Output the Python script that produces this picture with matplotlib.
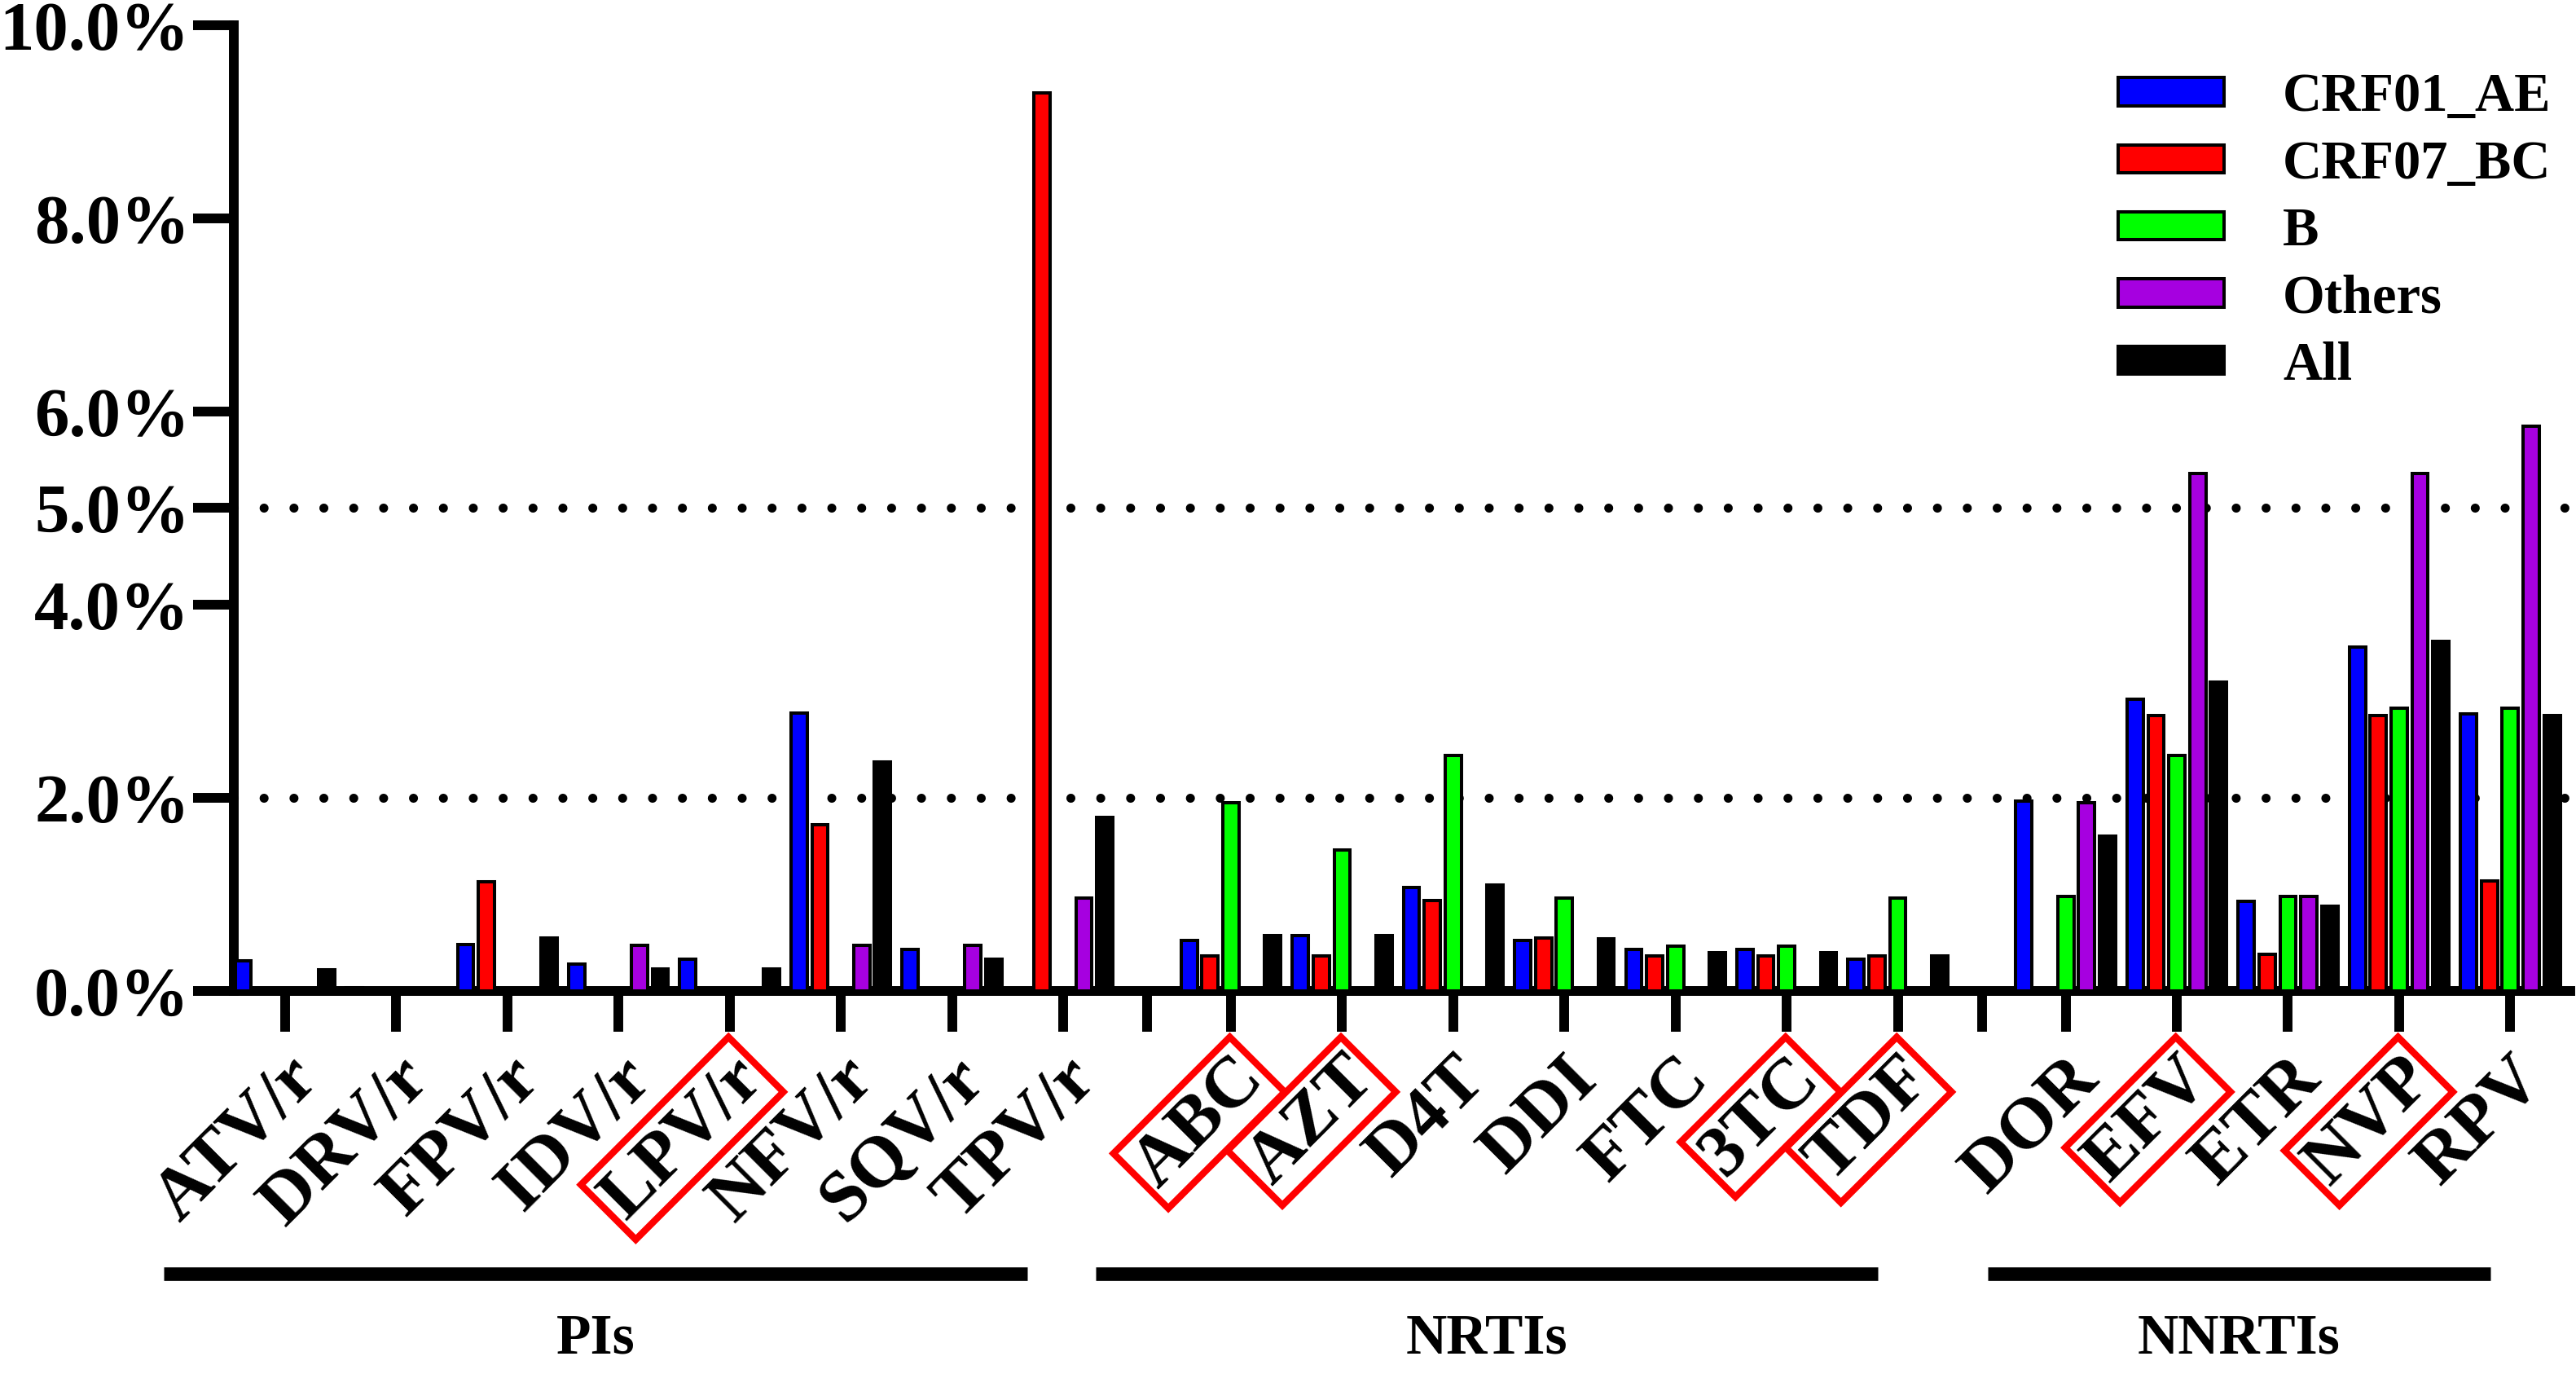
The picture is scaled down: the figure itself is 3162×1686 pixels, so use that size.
import matplotlib
matplotlib.use('Agg')
import matplotlib.pyplot as plt
import matplotlib.transforms as mtransforms
import numpy as np

# drugs, grouped by class
drugs = ['ATV/r', 'DRV/r', 'FPV/r', 'IDV/r', 'LPV/r', 'NFV/r', 'SQV/r', 'TPV/r',
         'ABC', 'AZT', 'D4T', 'DDI', 'FTC', '3TC', 'TDF',
         'DOR', 'EFV', 'ETR', 'NVP', 'RPV']
classNames = ['PIs', 'NRTIs', 'NNRTIs']
classSizes = [8, 7, 5]
boxedDrugs = ['LPV/r', 'ABC', 'AZT', '3TC', 'TDF', 'EFV', 'NVP']

seriesNames = ['CRF01_AE', 'CRF07_BC', 'B', 'Others', 'All']
crf01ae = [0.31, 0.03, 0.48, 0.28, 0.33, 2.88, 0.43, 0.02,
           0.52, 0.57, 1.07, 0.52, 0.43, 0.43, 0.33,
           1.97, 3.02, 0.93, 3.56, 2.87]
crf07bc = [0, 0, 1.13, 0, 0, 1.72, 0, 9.30,
           0.36, 0.36, 0.94, 0.55, 0.36, 0.36, 0.36,
           0, 2.85, 0.38, 2.85, 1.14]
subtypeB = [0, 0, 0, 0, 0, 0, 0, 0,
            1.95, 1.46, 2.44, 0.96, 0.46, 0.46, 0.96,
            0.98, 2.44, 0.98, 2.93, 2.93]
others = [0, 0, 0, 0.47, 0, 0.47, 0.47, 0.96,
          0, 0, 0, 0, 0, 0, 0,
          1.95, 5.36, 0.98, 5.36, 5.85]
allSubtypes = [0.22, 0, 0.55, 0.23, 0.23, 2.37, 0.33, 1.80,
               0.57, 0.57, 1.10, 0.54, 0.40, 0.40, 0.36,
               1.60, 3.20, 0.88, 3.62, 2.85]

yTicks = [0, 2, 4, 5, 6, 8, 10]
yTickLabels = ['0.0%', '2.0%', '4.0%', '5.0%', '6.0%', '8.0%', '10.0%']
refLines = [2, 5]

plt.rcParams['font.family'] = ['Liberation Serif', 'DejaVu Serif']
plt.rcParams['font.weight'] = 'bold'

# category positions, with a wider gap (and an unlabeled tick) between classes
groupGap = 1.51
xPos = []
spacerPos = []
start = 0.0
for n in classSizes:
    xPos += [start + i for i in range(n)]
    spacerPos.append(start + n - 1 + groupGap / 2)
    start = start + n - 1 + groupGap
spacerPos = spacerPos[:-1]
xPos = np.array(xPos)

fig = plt.figure(figsize=(31.62, 16.86), dpi=100)
ax = fig.add_axes([0.0908, 0.2788, 0.907, 0.7028])

clr = ['#0000ff', '#ff0000', '#00ff00', '#a600e0', '#000000']
seriesVals = [crf01ae, crf07bc, subtypeB, others, allSubtypes]
pitch = 0.188
barW = 0.145
for k in range(len(seriesNames)):
    ax.bar(xPos + (k - 2) * pitch, seriesVals[k], width=barW, color=clr[k],
           edgecolor='black', linewidth=2.9, label=seriesNames[k], zorder=3)

for v in refLines:
    ax.axhline(v, color='black', linewidth=8, linestyle=(0, (0.001, 3.3)),
               dash_capstyle='round', zorder=1)

ax.set_xlim(-0.46, 20.56)
ax.set_ylim(0, 10)

for s in ['top', 'right']:
    ax.spines[s].set_visible(False)
for s in ['left', 'bottom']:
    ax.spines[s].set_linewidth(8.6)

ax.set_yticks(yTicks)
ax.set_yticklabels(yTickLabels)
ax.tick_params(axis='y', length=36, width=8.6, labelsize=61, pad=3)

ax.set_xticks(list(xPos) + spacerPos)
ax.set_xticklabels([])
ax.tick_params(axis='x', length=36, width=8.6)

# rotated drug names, a few of them boxed in red
lblTrans = ax.get_xaxis_transform() + mtransforms.ScaledTranslation(
    -1 / 72, -48 / 72, fig.dpi_scale_trans)
for x, name in zip(xPos, drugs):
    t = ax.text(x, 0, name, transform=lblTrans, rotation=45, rotation_mode='anchor',
                ha='right', va='top', fontsize=64, fontweight='bold')
    if name in boxedDrugs:
        t.set_bbox(dict(boxstyle='square,pad=0.08', fc='none', ec='red', lw=6))

ax.legend(loc='upper left', bbox_to_anchor=(0.8223, 0.947), bbox_transform=fig.transFigure,
          frameon=False, fontsize=48, handlelength=1.95, handleheight=0.42,
          handletextpad=1.08, labelspacing=0.32, borderpad=0, borderaxespad=0)

# class underlines and names below the tick labels
trans = mtransforms.blended_transform_factory(ax.transData, fig.transFigure)
groupLineSpans = [(-1.09, 6.68), (7.29, 14.33), (15.32, 19.84)]
for name, (x0, x1) in zip(classNames, groupLineSpans):
    ax.plot([x0, x1], [0.073, 0.073], transform=trans, color='black',
            linewidth=12, solid_capstyle='butt', clip_on=False)
    ax.text((x0 + x1) / 2, 0.025, name, transform=trans, ha='center', va='center',
            fontsize=50, fontweight='bold')

fig.savefig('out.png', dpi=100)
